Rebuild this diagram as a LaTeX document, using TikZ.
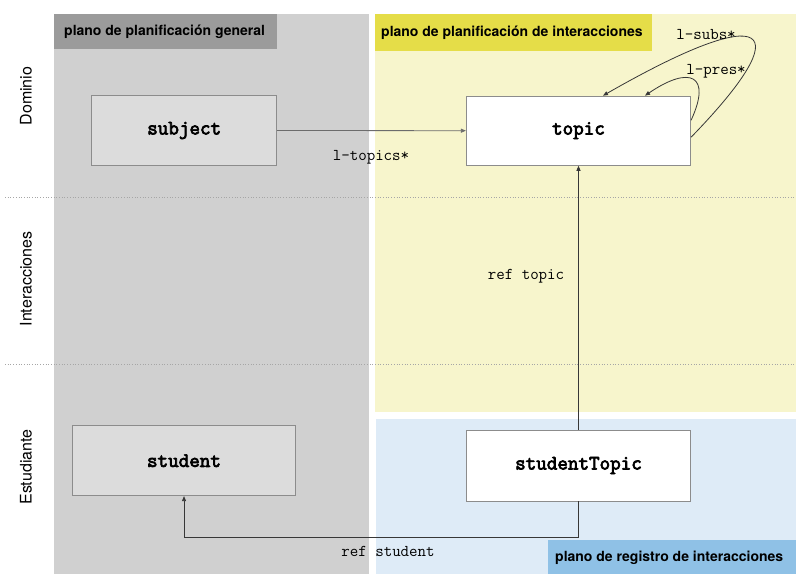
\documentclass[tikz,border=0pt]{standalone}
\usepackage{fontspec}
\setmainfont{TeX Gyre Heros}
\newfontfamily\entitymono[FakeBold=3.5]{Latin Modern Mono}
\usetikzlibrary{arrows.meta}

\definecolor{panelgray}{RGB}{208,208,208}
\definecolor{headgray}{RGB}{155,155,155}
\definecolor{panelyellow}{RGB}{247,245,204}
\definecolor{headyellow}{RGB}{229,221,72}
\definecolor{panelblue}{RGB}{222,235,247}
\definecolor{headblue}{RGB}{143,193,230}
\definecolor{boxgray}{RGB}{220,220,220}
\definecolor{boxline}{RGB}{140,140,140}
\definecolor{linkcol}{RGB}{55,55,55}

\tikzset{
  entity/.style={draw=boxline, line width=0.8pt, inner sep=0pt,
    font=\fontsize{20.5}{22}\selectfont\entitymono},
  grayentity/.style={entity, fill=boxgray},
  whiteentity/.style={entity, fill=white},
  headtext/.style={anchor=west, inner sep=0pt,
    font=\fontsize{14}{16}\selectfont\bfseries},
  rowlabel/.style={rotate=90, inner sep=0pt,
    font=\fontsize{16}{18}\selectfont},
  linklabel/.style={inner sep=0pt, font=\fontsize{16.5}{18}\selectfont\ttfamily},
  link/.style={draw=linkcol, line width=0.8pt,
    -{Triangle[length=5pt,width=4pt]}},
  lanesep/.style={draw=gray!70, line width=0.7pt, dotted}
}

\begin{document}
\begin{tikzpicture}[x=1pt, y=-1pt]
  \useasboundingbox (0,0) rectangle (796,574);

  % planes
  \fill[panelgray]   (54,14)  rectangle (369,574);
  \fill[panelyellow] (375,14) rectangle (796,411.7);
  \fill[panelblue]   (376,418.7) rectangle (796,574);

  % plane headers
  \fill[headgray]   (54,14)   rectangle (277,48.7);
  \fill[headyellow] (375,14)  rectangle (651.7,50.7);
  \fill[headblue]   (548,540) rectangle (796,574);
  \node[headtext] (hgen) at (64,31.5)  {plano de planificación general};
  \node[headtext] (hint) at (381,33)   {plano de planificación de interacciones};
  \node[headtext] (hreg) at (555,558)  {plano de registro de interacciones};

  % lane separators
  \draw[lanesep] (5,197.5) -- (796,197.5);
  \draw[lanesep] (5,364)   -- (796,364);

  % lane names
  \node[rowlabel] (lDom) at (26,96)  {Dominio};
  \node[rowlabel] (lInt) at (26,279) {Interacciones};
  \node[rowlabel] (lEst) at (26,467) {Estudiante};

  % entities
  \node[grayentity,  minimum width=185pt,   minimum height=69.6pt] (subject)      at (184.2,130.5) {subject};
  \node[whiteentity, minimum width=224.4pt, minimum height=69.3pt] (topic)        at (578.5,130.7) {topic};
  \node[grayentity,  minimum width=223.4pt, minimum height=70pt]   (student)      at (184,460.7)   {student};
  \node[whiteentity, minimum width=224.4pt, minimum height=71pt]   (studentTopic) at (578.5,465.5) {studentTopic};

  % links
  \draw[link, draw=gray!85!black] (subject.east) -- (topic.west);
  \node[linklabel] (ltopics) at (371,157) {l-topics*};

  \draw[link] (studentTopic.north) -- (topic.south);
  \node[linklabel] (lreftopic) at (526,276) {ref topic};

  \draw[link] (studentTopic.south) -- ++(0,36) -| (student.south);
  \node[linklabel] (lrefstudent) at (388,551) {ref student};

  \draw[link] ([yshift=-6.5pt]topic.east) .. controls (800,25) and (770,0) .. ([xshift=24.5pt]topic.north);
  \node[linklabel] (lsubs) at (706,35) {l-subs*};

  \draw[link] ([yshift=10.5pt]topic.east) .. controls (712,75) and (690,65) .. ([xshift=66.5pt]topic.north);
  \node[linklabel] (lpres) at (716,71) {l-pres*};
\end{tikzpicture}
\end{document}
